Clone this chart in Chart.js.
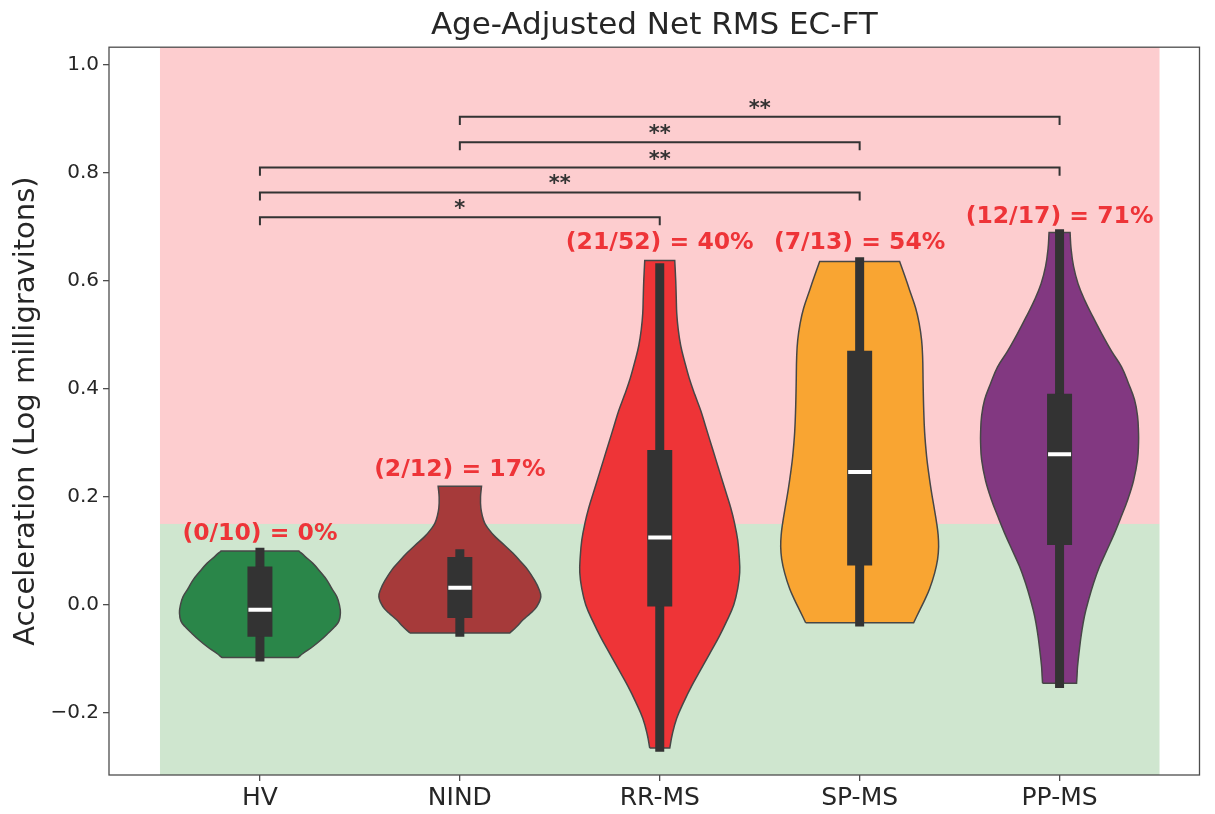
<!DOCTYPE html>
<html>
<head>
<meta charset="utf-8">
<title>Age-Adjusted Net RMS EC-FT</title>
<script src="https://cdn.jsdelivr.net/npm/chart.js@4.4.1/dist/chart.umd.min.js"></script>
<style>
  html, body { margin: 0; padding: 0; background: #ffffff; }
  #wrap { width: 1215px; height: 814px; position: relative; }
</style>
</head>
<body>
<div id="wrap"><canvas id="violin-chart"></canvas></div>
<script>
// Groups and axis ticks
const categories = ['HV', 'NIND', 'RR-MS', 'SP-MS', 'PP-MS'];
const yTicks = [-0.2, 0.0, 0.2, 0.4, 0.6, 0.8, 1.0];
const violinColors = ['#2a8649', '#a63a3a', '#ee3437', '#f9a532', '#823881'];

// Violin outlines: level on the y axis and half width (in category units)
const hvLevels = [-0.0976, -0.09, -0.077, -0.065, -0.052, -0.04, -0.03, -0.015, 0.0, 0.015, 0.03, 0.046, 0.06, 0.077, 0.09, 0.100];
const hvWidths = [0.19, 0.215, 0.265, 0.305, 0.3425, 0.375, 0.395, 0.4025, 0.3975, 0.385, 0.36, 0.335, 0.305, 0.265, 0.225, 0.195];
const nindLevels = [-0.052, -0.04, -0.028, -0.015, -0.003, 0.015, 0.03, 0.045, 0.065, 0.08, 0.096, 0.11, 0.127, 0.14, 0.151, 0.165, 0.18, 0.20, 0.22];
const nindWidths = [0.25, 0.285, 0.315, 0.355, 0.385, 0.405, 0.395, 0.375, 0.34, 0.305, 0.265, 0.225, 0.175, 0.145, 0.125, 0.1125, 0.105, 0.1035, 0.1085];
const rrLevels = [-0.265, -0.24, -0.21, -0.18, -0.15, -0.12, -0.09, -0.06, -0.03, 0.0, 0.03, 0.06, 0.09, 0.12, 0.15, 0.18, 0.21, 0.24, 0.27, 0.30, 0.33, 0.36, 0.39, 0.42, 0.45, 0.48, 0.51, 0.54, 0.57, 0.60, 0.638];
const rrWidths = [0.05, 0.0625, 0.085, 0.12, 0.16, 0.205, 0.25, 0.295, 0.335, 0.37, 0.39, 0.40, 0.3975, 0.39, 0.375, 0.355, 0.33, 0.305, 0.28, 0.255, 0.23, 0.205, 0.175, 0.1475, 0.125, 0.105, 0.0925, 0.085, 0.0825, 0.08, 0.075];
const spLevels = [-0.033, -0.01, 0.009, 0.03, 0.059, 0.085, 0.108, 0.13, 0.152, 0.18, 0.213, 0.245, 0.275, 0.32, 0.367, 0.41, 0.46, 0.49, 0.522, 0.55, 0.583, 0.61, 0.636];
const spWidths = [0.27, 0.30, 0.325, 0.35, 0.375, 0.39, 0.395, 0.3925, 0.385, 0.3725, 0.3575, 0.345, 0.335, 0.325, 0.32, 0.3175, 0.315, 0.31, 0.2975, 0.28, 0.25, 0.225, 0.20];
const ppLevels = [-0.145, -0.13, -0.114, -0.08, -0.052, -0.02, 0.009, 0.04, 0.071, 0.10, 0.133, 0.165, 0.194, 0.23, 0.269, 0.30, 0.318, 0.35, 0.38, 0.41, 0.441, 0.47, 0.503, 0.535, 0.565, 0.595, 0.627, 0.66, 0.690];
const ppWidths = [0.085, 0.0875, 0.09, 0.10, 0.11, 0.125, 0.145, 0.17, 0.20, 0.235, 0.275, 0.31, 0.34, 0.37, 0.39, 0.395, 0.395, 0.39, 0.375, 0.345, 0.31, 0.26, 0.21, 0.165, 0.125, 0.0925, 0.07, 0.0575, 0.0525];

// Inner box plots
const whiskerLow = [-0.105, -0.059, -0.272, -0.040, -0.154];
const whiskerHigh = [0.106, 0.103, 0.633, 0.644, 0.696];
const boxLow = [-0.059, -0.024, -0.003, 0.073, 0.111];
const boxHigh = [0.071, 0.089, 0.287, 0.471, 0.391];
const medians = [-0.009, 0.032, 0.125, 0.246, 0.279];

// Ratio labels above each violin
const ratioLabels = ['(0/10) = 0%', '(2/12) = 17%', '(21/52) = 40%', '(7/13) = 54%', '(12/17) = 71%'];
const ratioLabelY = [0.131, 0.250, 0.670, 0.670, 0.719];

// Significance brackets
const bracketFrom = [0, 0, 0, 1, 1];
const bracketTo = [2, 3, 4, 3, 4];
const bracketY = [0.718, 0.764, 0.810, 0.857, 0.904];
const bracketStars = ['*', '**', '**', '**', '**'];

// Abnormal threshold: red band above, green band below
const threshold = 0.15;

Chart.defaults.font.family = "'DejaVu Sans', sans-serif";
Chart.defaults.color = '#262626';

const violinLevels = [hvLevels, nindLevels, rrLevels, spLevels, ppLevels];
const violinWidths = [hvWidths, nindWidths, rrWidths, spWidths, ppWidths];

// Outline of a violin: up the left side, down the right side, back to start.
// Corner points are doubled so the flat ends stay sharp with the curve tension.
function violinPoints(i) {
    const lv = violinLevels[i];
    const hw = violinWidths[i];
    const n = lv.length;
    const pts = [];
    pts.push({x: i - hw[0], y: lv[0]});
    for (let k = 0; k < n; k++) pts.push({x: i - hw[k], y: lv[k]});
    pts.push({x: i - hw[n - 1], y: lv[n - 1]});
    pts.push({x: i + hw[n - 1], y: lv[n - 1]});
    for (let k = n - 1; k >= 0; k--) pts.push({x: i + hw[k], y: lv[k]});
    pts.push({x: i + hw[0], y: lv[0]});
    pts.push({x: i - hw[0], y: lv[0]});
    pts.push({x: i - hw[0], y: lv[0]});
    return pts;
}

const datasets = [];

categories.forEach((c, i) => {
    datasets.push({
        type: 'line',
        label: c,
        data: violinPoints(i),
        backgroundColor: violinColors[i],
        borderColor: '#474747',
        borderWidth: 1.5,
        fill: 'shape',
        tension: 0.4,
        pointRadius: 0,
        order: 10
    });
});

datasets.push({
    type: 'bar',
    label: 'whiskers',
    data: categories.map((c, i) => ({x: i, y: [whiskerLow[i], whiskerHigh[i]]})),
    backgroundColor: '#333333',
    borderWidth: 0,
    grouped: false,
    maxBarThickness: 9,
    order: 3
});

datasets.push({
    type: 'bar',
    label: 'boxes',
    data: categories.map((c, i) => ({x: i, y: [boxLow[i], boxHigh[i]]})),
    backgroundColor: '#333333',
    borderWidth: 0,
    grouped: false,
    maxBarThickness: 25,
    order: 2
});

datasets.push({
    type: 'scatter',
    label: 'medians',
    data: categories.map((c, i) => ({x: i, y: medians[i]})),
    pointStyle: 'line',
    pointRadius: 11.5,
    pointBorderWidth: 4,
    pointBorderColor: '#ffffff',
    order: 1
});

bracketFrom.forEach((from, k) => {
    const to = bracketTo[k];
    const y = bracketY[k];
    datasets.push({
        type: 'line',
        label: 'bracket ' + k,
        data: [
            {x: from, y: y - 0.015},
            {x: from, y: y},
            {x: to, y: y},
            {x: to, y: y - 0.015}
        ],
        borderColor: '#333333',
        borderWidth: 2,
        fill: false,
        tension: 0,
        pointRadius: 0,
        order: 0
    });
});

// Background bands behind the violins
const bandsPlugin = {
    id: 'bands',
    beforeDatasetsDraw(chart) {
        const {ctx, scales: {x, y}} = chart;
        const left = x.getPixelForValue(-0.5);
        const right = x.getPixelForValue(categories.length - 0.5);
        const top = y.getPixelForValue(y.max);
        const mid = y.getPixelForValue(threshold);
        const bottom = y.getPixelForValue(y.min);
        ctx.save();
        ctx.fillStyle = 'rgba(248, 56, 64, 0.25)';
        ctx.fillRect(left, top, right - left, mid - top);
        ctx.fillStyle = 'rgba(70, 160, 70, 0.26)';
        ctx.fillRect(left, mid, right - left, bottom - mid);
        ctx.restore();
    }
};

// Ratio labels, stars and the axes frame
const annotatePlugin = {
    id: 'annotate',
    afterDatasetsDraw(chart) {
        const {ctx, scales: {x, y}} = chart;
        ctx.save();
        ctx.textAlign = 'center';
        ctx.textBaseline = 'middle';
        ctx.fillStyle = '#ee3438';
        ctx.font = "bold 23.5px 'DejaVu Sans'";
        ratioLabels.forEach((t, i) => {
            ctx.fillText(t, x.getPixelForValue(i), y.getPixelForValue(ratioLabelY[i]));
        });
        ctx.fillStyle = '#333333';
        ctx.font = "bold 21px 'DejaVu Sans'";
        ctx.textBaseline = 'alphabetic';
        bracketStars.forEach((s, k) => {
            const cx = x.getPixelForValue((bracketFrom[k] + bracketTo[k]) / 2);
            ctx.fillText(s, cx, y.getPixelForValue(bracketY[k]) - 2);
        });
        ctx.restore();
    },
    afterDraw(chart) {
        const {ctx, chartArea} = chart;
        ctx.save();
        ctx.strokeStyle = '#4d4d4d';
        ctx.lineWidth = 1.3;
        ctx.strokeRect(chartArea.left, chartArea.top, chartArea.right - chartArea.left, chartArea.bottom - chartArea.top);
        ctx.restore();
    }
};

const violinChart = new Chart(document.getElementById('violin-chart'), {
    type: 'scatter',
    data: { datasets: datasets },
    plugins: [bandsPlugin, annotatePlugin],
    options: {
        responsive: true,
        maintainAspectRatio: false,
        animation: false,
        devicePixelRatio: 1,
        layout: { padding: { left: 0, right: 15, top: 0, bottom: 0 } },
        plugins: {
            legend: { display: false },
            tooltip: { enabled: false },
            title: {
                display: true,
                text: 'Age-Adjusted Net RMS EC-FT',
                fullSize: false,
                color: '#262626',
                font: { size: 31, weight: 'normal' },
                padding: { top: 7, bottom: 3 }
            }
        },
        scales: {
            x: {
                type: 'linear',
                min: -0.755,
                max: 4.7,
                offset: false,
                afterBuildTicks: (scale) => {
                    scale.ticks = categories.map((c, i) => ({value: i}));
                },
                afterFit: (scale) => { scale.height = 39; },
                ticks: {
                    autoSkip: false,
                    maxRotation: 0,
                    padding: 2,
                    color: '#262626',
                    font: { size: 25 },
                    callback: (v) => categories[v]
                },
                grid: {
                    offset: false,
                    drawOnChartArea: false,
                    drawTicks: true,
                    tickLength: 6,
                    color: '#4d4d4d',
                    lineWidth: 1.3
                },
                border: { display: false }
            },
            y: {
                type: 'linear',
                min: -0.315,
                max: 1.033,
                beginAtZero: false,
                afterBuildTicks: (scale) => {
                    scale.ticks = yTicks.map(v => ({value: v}));
                },
                afterFit: (scale) => { scale.width = 109; },
                ticks: {
                    padding: 4,
                    color: '#262626',
                    font: { size: 20 },
                    callback: (v) => (v < 0 ? '\u2212' : '') + Math.abs(v).toFixed(1)
                },
                grid: {
                    drawOnChartArea: false,
                    drawTicks: true,
                    tickLength: 6,
                    color: '#4d4d4d',
                    lineWidth: 1.3
                },
                border: { display: false },
                title: {
                    display: true,
                    text: 'Acceleration (Log milligravitons)',
                    color: '#262626',
                    font: { size: 29 },
                    padding: { top: 9, bottom: 0 }
                }
            }
        }
    }
});
</script>
</body>
</html>
